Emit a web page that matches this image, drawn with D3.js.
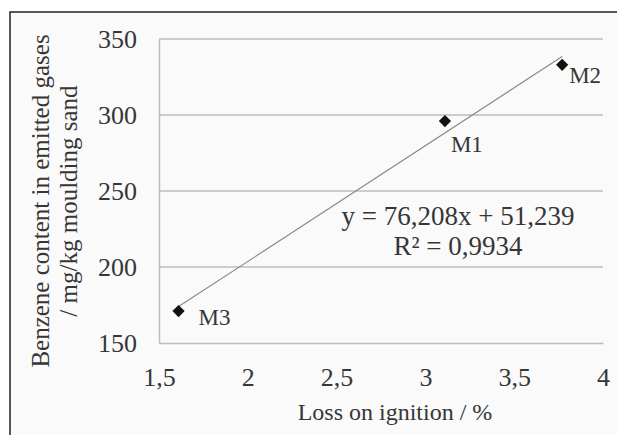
<!DOCTYPE html>
<html>
<head>
<meta charset="utf-8">
<script src="https://cdn.jsdelivr.net/npm/d3@7/dist/d3.min.js"></script>
<style>
  html, body { margin: 0; padding: 0; background: #fff; }
  svg { display: block; }
  text { font-family: "Liberation Serif", "Times New Roman", serif; fill: #363636; }
</style>
</head>
<body>
<div id="chart"></div>
<script>
// samples and measured values
var samples = ["M1", "M2", "M3"];
var lossOnIgnition = [3.11, 3.77, 1.61];
var benzene = [296, 333, 171];

var xTicks = [1.5, 2, 2.5, 3, 3.5, 4];
var yTicks = [150, 200, 250, 300, 350];

// linear trend as printed on the chart
var slope = 76.208, intercept = 51.239, r2 = 0.9934;

var width = 617, height = 435;
var plot = {left: 159, right: 603, top: 39, bottom: 343};

// where each sample label sits relative to its marker
var labelOffset = {M1: [6, 31], M2: [7, 18], M3: [20, 14]};

var comma = function(v) { return String(v).replace(".", ","); };

var svg = d3.select("#chart").append("svg")
  .attr("width", width).attr("height", height);

// frame
svg.append("rect")
  .attr("x", 10).attr("y", 12)
  .attr("width", width - 10).attr("height", height - 12)
  .attr("fill", "#fafafa");
svg.append("path")
  .attr("d", "M10," + height + "V12H" + width)
  .attr("fill", "none").attr("stroke", "#222").attr("stroke-width", 1.5);

var x = d3.scaleLinear().domain([1.5, 4]).range([plot.left, plot.right]);
var y = d3.scaleLinear().domain([150, 350]).range([plot.bottom, plot.top]);

// grid
svg.append("g").selectAll("line")
  .data(yTicks.slice(1))
  .enter().append("line")
    .attr("x1", plot.left).attr("x2", plot.right)
    .attr("y1", function(d) { return y(d); })
    .attr("y2", function(d) { return y(d); })
    .attr("stroke", "#bdbdbd").attr("stroke-width", 1.5);

// axes
var xAxis = svg.append("g")
  .attr("transform", "translate(0," + plot.bottom + ")")
  .call(d3.axisBottom(x).tickValues(xTicks).tickSize(0).tickPadding(25).tickFormat(comma));
xAxis.select(".domain").attr("stroke", "#bdbdbd").attr("stroke-width", 1.5);
xAxis.selectAll("text").style("font-size", "26px").attr("fill", "#363636");

var yAxis = svg.append("g")
  .attr("transform", "translate(" + plot.left + ",0)")
  .call(d3.axisLeft(y).tickValues(yTicks).tickSize(0).tickPadding(22));
yAxis.select(".domain").attr("stroke", "#bdbdbd").attr("stroke-width", 1.5);
yAxis.selectAll("text").style("font-size", "26px").attr("fill", "#363636");

// trend line over the range of the samples
var xr = d3.extent(lossOnIgnition);
svg.append("line")
  .attr("x1", x(xr[0])).attr("y1", y(slope * xr[0] + intercept))
  .attr("x2", x(xr[1])).attr("y2", y(slope * xr[1] + intercept))
  .attr("stroke", "#8a8a8a").attr("stroke-width", 1.2);

// markers
var pts = samples.map(function(s, i) { return {name: s, x: lossOnIgnition[i], y: benzene[i]}; });

svg.selectAll(".pt")
  .data(pts)
  .enter().append("path")
    .attr("class", "pt")
    .attr("d", d3.symbol().type(d3.symbolDiamond2).size(95))
    .attr("transform", function(d) { return "translate(" + x(d.x) + "," + y(d.y) + ")"; })
    .attr("fill", "#111");

svg.selectAll(".lbl")
  .data(pts)
  .enter().append("text")
    .attr("class", "lbl")
    .attr("x", function(d) { return x(d.x) + labelOffset[d.name][0]; })
    .attr("y", function(d) { return y(d.y) + labelOffset[d.name][1]; })
    .style("font-size", "23px")
    .text(function(d) { return d.name; });

// equation
svg.append("text")
  .attr("x", 458).attr("y", 225)
  .attr("text-anchor", "middle")
  .style("font-size", "27px")
  .text("y = " + comma(slope) + "x + " + comma(intercept));
svg.append("text")
  .attr("x", 458).attr("y", 255)
  .attr("text-anchor", "middle")
  .style("font-size", "27px")
  .text("R\u00b2 = " + comma(r2));

// axis titles
svg.append("text")
  .attr("x", 395).attr("y", 420)
  .attr("text-anchor", "middle")
  .style("font-size", "24px")
  .text("Loss on ignition / %");

var yTitle = svg.append("text")
  .attr("transform", "translate(0,201) rotate(-90)")
  .attr("text-anchor", "middle")
  .style("font-size", "25px");
yTitle.append("tspan").attr("x", 0).attr("y", 49).text("Benzene content in emitted gases");
yTitle.append("tspan").attr("x", 0).attr("y", 77).text("/ mg/kg moulding sand");
</script>
</body>
</html>
